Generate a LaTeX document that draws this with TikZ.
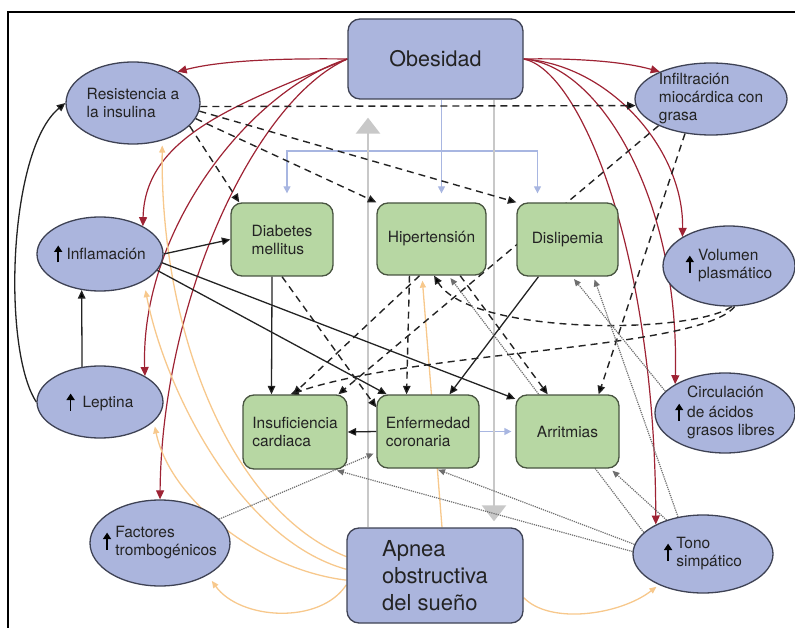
\documentclass[tikz,border=0pt]{standalone}
\usepackage{fontspec}
\setmainfont{TeX Gyre Heros}
\usetikzlibrary{shapes.geometric,arrows.meta,calc}
\definecolor{bluefill}{RGB}{171,181,221}
\definecolor{greenfill}{RGB}{183,215,163}
\definecolor{boxline}{RGB}{62,66,84}
\definecolor{greenline}{RGB}{72,84,64}
\definecolor{txt}{RGB}{35,35,35}
\definecolor{obred}{RGB}{158,35,52}
\definecolor{obblue}{RGB}{168,182,225}
\definecolor{sleeporange}{RGB}{247,200,140}
\definecolor{biggray}{RGB}{200,200,200}
\definecolor{dotgray}{RGB}{110,110,110}
\pgfdeclarelayer{background}
\pgfsetlayers{background,main}
\tikzstyle{bigbox} = [rectangle, rounded corners=12pt, draw=boxline, fill=bluefill, line width=1.3pt, text=txt, font=\fontsize{21.5}{25}\selectfont, align=left, inner sep=0pt]
\tikzstyle{greenbox} = [rectangle, rounded corners=11pt, draw=greenline, fill=greenfill, line width=1.3pt, minimum width=102pt, minimum height=73pt, text=txt, font=\fontsize{15.5}{18}\selectfont, align=left, inner sep=0pt]
\tikzstyle{bubble} = [ellipse, draw=boxline, fill=bluefill, line width=1.3pt, text=txt, font=\fontsize{15.5}{18}\selectfont, align=left, inner xsep=-3pt, inner ysep=0pt]
\tikzstyle{solidarr} = [line width=1.3pt, draw=txt, -{Triangle[length=8.5pt,width=7.5pt]}]
\tikzstyle{dasharr} = [solidarr, line width=1.4pt, dash pattern=on 7pt off 5pt]
\tikzstyle{redarr} = [line width=1.2pt, draw=obred, -{Triangle[length=9pt,width=8pt]}]
\tikzstyle{bluearr} = [line width=1.3pt, draw=obblue, -{Triangle[length=7pt,width=7pt]}, shorten >=9pt]
\tikzstyle{orangearr} = [line width=1.3pt, draw=sleeporange, -{Triangle[length=7pt,width=6pt]}, shorten >=5pt]
\tikzstyle{grayarr} = [line width=2.6pt, draw=biggray, -{Triangle[length=16pt,width=24pt]}]
\tikzstyle{dotarr} = [line width=1.2pt, draw=dotgray, densely dotted, -{Triangle[length=7pt,width=6pt]}, shorten >=3pt]
\newcommand{\upArrow}{%
	\tikz[baseline=0pt] \draw[black, line width=1.6pt, -{Triangle[length=6.5pt,width=8pt]}] (0pt,-3pt) -- (0pt,14pt);%
}

\begin{document}
\begin{tikzpicture}[x=1pt, y=-1pt]
	\useasboundingbox (0,0) rectangle (795,628);
	\node (obes) at (435.5,59) [bigbox, minimum width=175pt, minimum height=80pt] {Obesidad};
	\node (apnea) at (435,575.5) [bigbox, minimum width=176pt, minimum height=95pt, font=\fontsize{22}{27}\selectfont] {Apnea\\obstructiva\\del sueño};
	\node (diab) at (282,239.5) [greenbox] {Diabetes\\mellitus};
	\node (hipe) at (431.5,239) [greenbox, minimum width=109pt, minimum height=72pt] {Hipertensión};
	\node (disl) at (567.5,239.5) [greenbox, minimum width=101pt] {Dislipemia};
	\node (insu) at (295,432) [greenbox, minimum width=104pt, minimum height=74pt] {Insuficiencia\\cardiaca};
	\node (enfe) at (428,431.5) [greenbox] {Enfermedad\\coronaria};
	\node (arri) at (567.5,431.5) [greenbox, minimum width=103pt] {Arritmias};
	\node (resis) at (133,103) [bubble, minimum width=134pt, minimum height=82pt] {Resistencia a\\la insulina};
	\node (infil) at (711,99) [bubble, minimum width=152pt, minimum height=72pt] {Infiltración\\miocárdica con\\grasa};
	\node (infl) at (100,254) [bubble, minimum width=126pt, minimum height=74pt] {\upArrow\ Inflamación};
	\node (lept) at (100,402) [bubble, minimum width=126pt, minimum height=72pt] {\upArrow\hspace{8pt}Leptina};
	\node (volu) at (729,266) [bubble, minimum width=132pt, minimum height=80pt] {\upArrow\ \begin{tabular}{@{}l@{}}Volumen\\plasmático\end{tabular}};
	\node (circ) at (725,413) [bubble, minimum width=140pt, minimum height=80pt] {\begin{tabular}{@{}r@{\hspace{4pt}}l@{}} & Circulación\\ \upArrow & de ácidos\\ & grasos libres\end{tabular}};
	\node (tono) at (703,554) [bubble, minimum width=140pt, minimum height=78pt] {\upArrow\ \begin{tabular}{@{}l@{}}Tono\\simpático\end{tabular}};
	\node (fact) at (160,543) [bubble, minimum width=140pt, minimum height=86pt, inner xsep=-8pt] {\upArrow\ \begin{tabular}{@{}l@{}}Factores\\trombogénicos\end{tabular}};
	\coordinate (bsplit) at (441.5,151);
	\begin{pgfonlayer}{background}
		\draw[line width=1.4pt] (8,628) -- (8,12) -- (795,12);
		\draw[redarr] (obes.west) .. controls (265,58) and (215,62) .. (resis.35);
		\draw[redarr] (obes.west) .. controls (238,104) and (145,136) .. (infl.33);
		\draw[redarr] (obes.west) .. controls (250,90) and (140,230) .. (lept.30);
		\draw[redarr] (obes.west) .. controls (255,100) and (162,300) .. (fact.north);
		\draw[redarr] (obes.east) .. controls (580,58) and (625,62) .. (infil.152);
		\draw[redarr] (obes.east) .. controls (610,65) and (684,150) .. (volu.148);
		\draw[redarr] (obes.east) .. controls (600,65) and (680,200) .. (circ.150);
		\draw[redarr] (obes.east) .. controls (580,70) and (655,250) .. (tono.148);
		\draw[line width=1.3pt, draw=obblue] ($(obes.south)+(6,0)$) -- (bsplit);
		\draw[bluearr] (bsplit) -- (bsplit |- hipe.north);
		\draw[bluearr] (bsplit) -| ($(diab.north)+(5,0)$);
		\draw[bluearr] (bsplit) -| ($(disl.north)+(-30,0)$);
		\draw[bluearr, shorten >=4pt] (enfe.east) -- (arri.west);
		\draw[grayarr, shorten >=18pt] ($(apnea.north)+(-67,0)$) -- ($(obes.south)+(-67.5,0)$);
		\draw[grayarr, shorten >=6pt] ($(obes.south)+(58.5,0)$) -- ($(apnea.north)+(59,0)$);
		\draw[orangearr] ($(apnea.north)+(7,0)$) -- ($(hipe.south)+(-9.5,0)$);
		\draw[orangearr] (apnea.168) .. controls (230,510) and (160,330) .. (resis.-52);
		\draw[orangearr, shorten >=9pt] (apnea.176) .. controls (240,540) and (165,390) .. (infl.-32);
		\draw[orangearr] (apnea.183) .. controls (260,570) and (170,500) .. (lept.-20);
		\draw[orangearr, shorten >=7pt] (apnea.186) .. controls (320,625) and (240,620) .. (fact.-34);
		\draw[orangearr, shorten >=3pt] (apnea.-14) .. controls (550,625) and (620,615) .. (tono.215);
		\draw[solidarr] (infl.east) -- (diab.west);
		\draw[solidarr] (infl.-16) -- (enfe.138);
		\draw[solidarr] (infl.-8) -- (arri.148);
		\draw[solidarr] (lept.117) -- (infl.243);
		\draw[solidarr] (lept.west) .. controls (2,350) and (8,150) .. (resis.west);
		\draw[solidarr] (diab.255) -- (insu.122);
		\draw[solidarr] (disl.232) -- (enfe.60);
		\draw[solidarr] (enfe.west) -- (insu.east);
		\draw[dasharr] (resis.-3) -- (infil.185);
		\draw[dasharr] (resis.-22) -- (diab.139);
		\draw[dasharr] (resis.-14) -- (hipe.north west);
		\draw[dasharr] (resis.-7) -- (disl.north west);
		\draw[dasharr] (infil.207) -- (insu.41);
		\draw[dasharr] (infil.233) -- (arri.50);
		\draw[dasharr] (volu.-86) .. controls (690,335) and (470,335) .. (hipe.274);
		\draw[dasharr] (volu.-82) .. controls (700,350) and (420,350) .. (insu.97);
		\draw[dasharr] (hipe.252) -- (insu.93);
		\draw[dasharr] (hipe.239) -- (enfe.120);
		\draw[dasharr] (hipe.308) -- (arri.118);
		\draw[dasharr] (diab.south) -- (enfe.155);
		\draw[dotarr] (tono.160) -- (hipe.295);
		\draw[dotarr] (tono.124) -- (disl.305);
		\draw[dotarr] (circ.160) -- (disl.277);
		\draw[dotarr] (tono.137) -- (arri.319);
		\draw[dotarr] (tono.172) -- (enfe.281);
		\draw[dotarr] (tono.178) -- (insu.316);
		\draw[dotarr] (fact.22) -- (enfe.202);
	\end{pgfonlayer}
\end{tikzpicture}
\end{document}
